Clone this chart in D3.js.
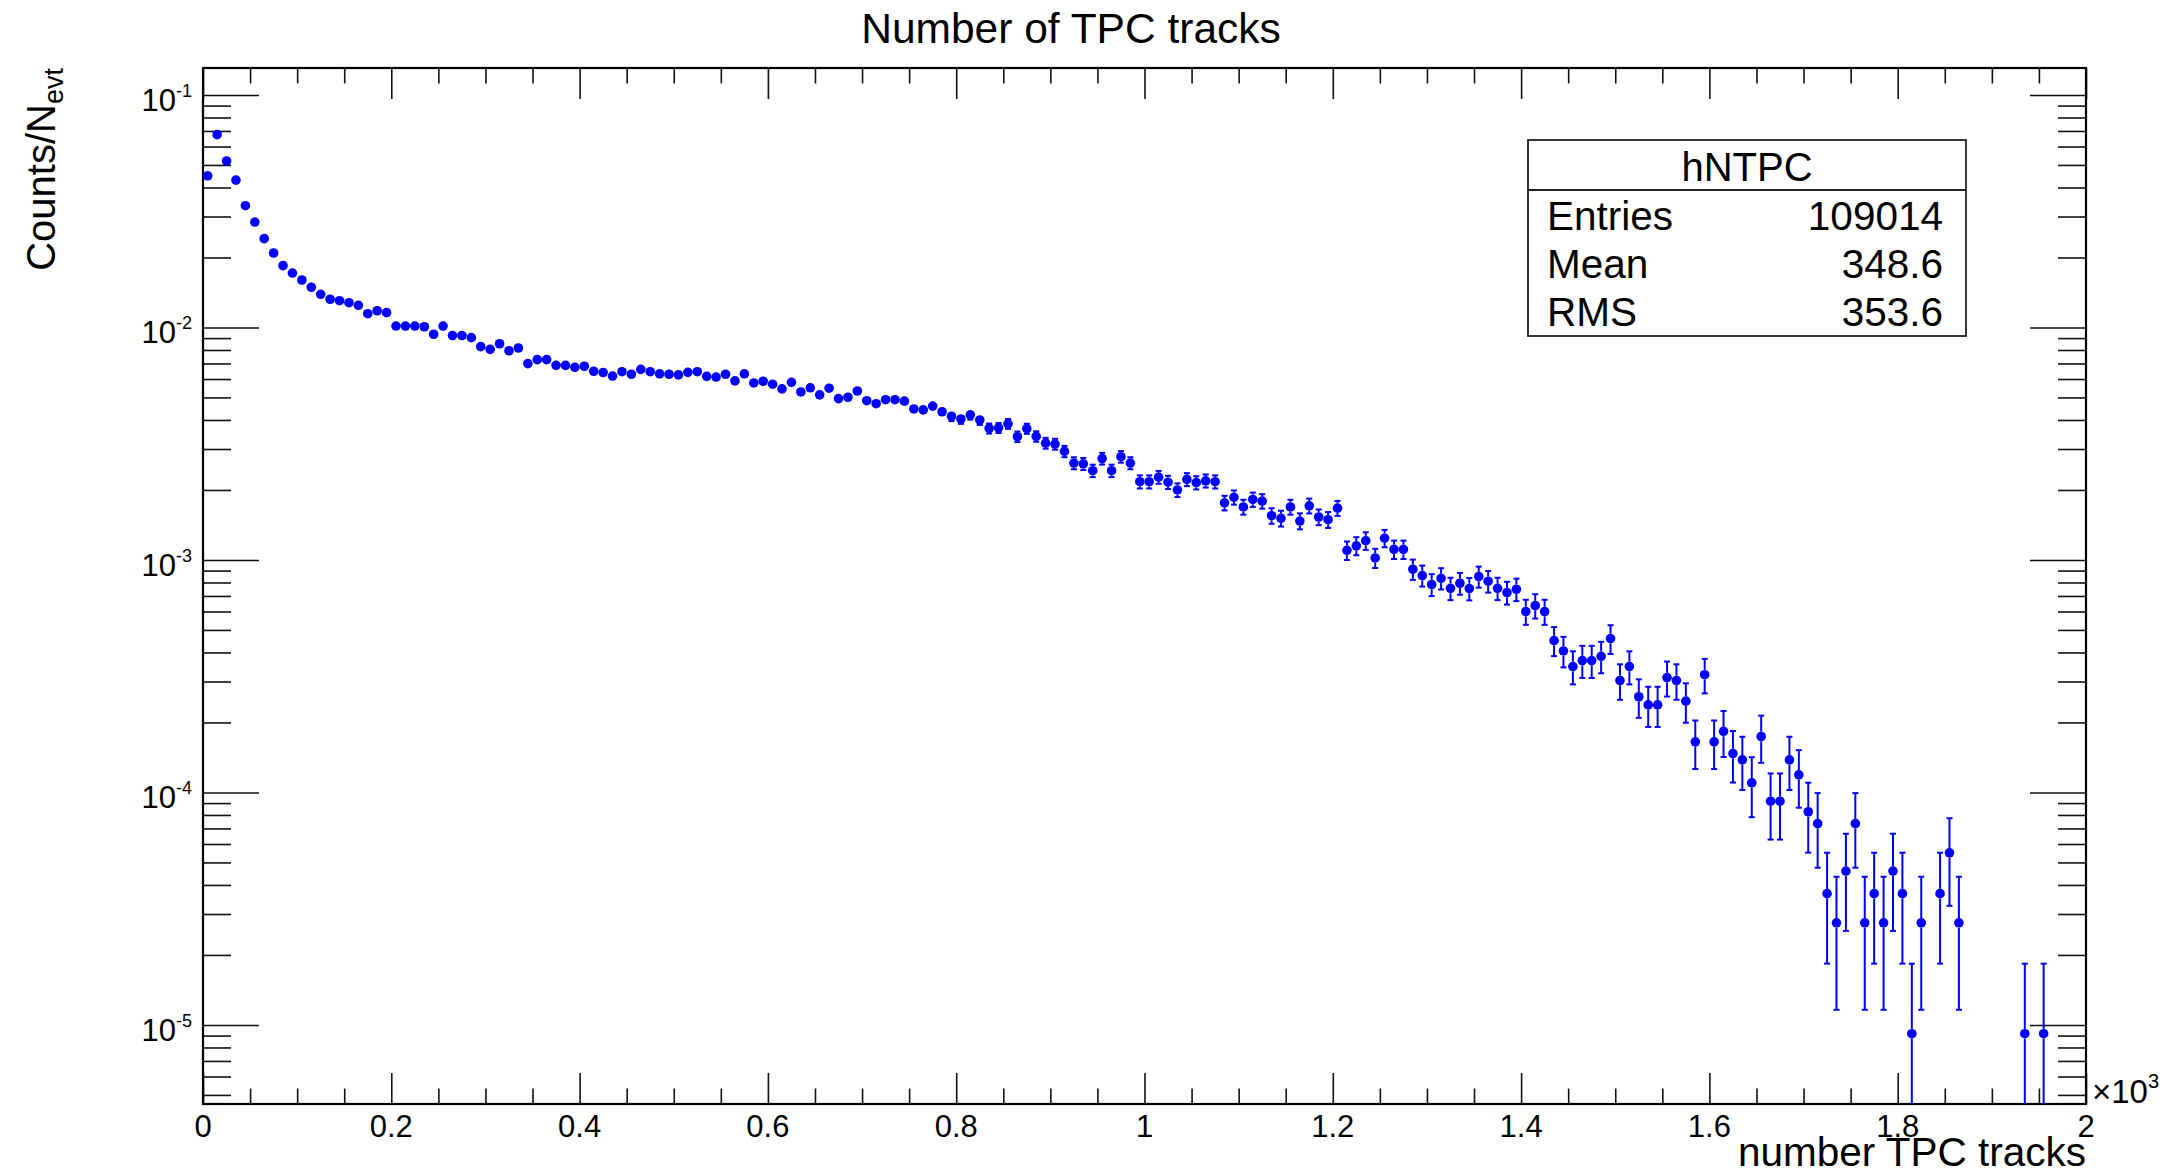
<!DOCTYPE html>
<html>
<head>
    <script src="https://cdn.jsdelivr.net/npm/d3@7/dist/d3.min.js"></script>
    <style>
        html, body {
            padding: 0;
            margin: 0;
            background: white;
        }
        text {
            font-family: "Liberation Sans", Arial, Helvetica, sans-serif;
            fill: #000;
        }
    </style>
</head>
<body>

<script>
    var width = 2177;
    var height = 1176;

    // histogram definition
    var nEvt = 109014;
    var xMin = 0, xMax = 2000, binWidth = 10;
    var yMin = 4.57e-6, yMax = 0.1306;

    // Counts/N_evt for each bin of 10 tracks, null = empty bin
    var counts = [
        0.0449, 0.0675, 0.052, 0.043, 0.0334, 0.0284, 0.0241, 0.0209, 0.01844, 0.01714,
        0.0160, 0.01489, 0.01389, 0.01322, 0.01303, 0.01278, 0.01245, 0.01146, 0.0118, 0.01158,
        0.01014, 0.01014, 0.01014, 0.01007, 0.00935, 0.01014, 0.00923, 0.00923, 0.00904, 0.00827,
        0.00805, 0.00851, 0.00794, 0.00816, 0.00699, 0.00727, 0.00727, 0.00687, 0.00687, 0.00674,
        0.00681, 0.00648, 0.0064, 0.00618, 0.00645, 0.00629, 0.0066, 0.00645, 0.00632, 0.00629,
        0.00625, 0.00641, 0.00645, 0.00616, 0.00612, 0.00629, 0.00589, 0.00632, 0.00577, 0.00587,
        0.0057, 0.00544, 0.00581, 0.00528, 0.0055, 0.00513, 0.00548, 0.00494, 0.00501, 0.00533,
        0.00484, 0.0047, 0.00489, 0.00489, 0.00482, 0.00446, 0.00442, 0.00459, 0.00434, 0.00415,
        0.00404, 0.00421, 0.004, 0.00368, 0.0037, 0.00385, 0.00339, 0.00367, 0.0034, 0.00318,
        0.00315, 0.00293, 0.00261, 0.00259, 0.00242, 0.00273, 0.00242, 0.00278, 0.00261, 0.00217,
        0.00217, 0.00227, 0.00216, 0.002, 0.00222, 0.00215, 0.00219, 0.00217, 0.00176, 0.00186,
        0.00169, 0.00182, 0.00179, 0.00155, 0.00151, 0.00169, 0.00147, 0.00171, 0.00153, 0.00149,
        0.00167, 0.0011, 0.00115, 0.00121, 0.00102, 0.00124, 0.00111, 0.00111, 0.000912, 0.000857,
        0.000784, 0.000834, 0.000755, 0.000794, 0.000753, 0.000848, 0.00081, 0.000755, 0.000724, 0.000748,
        0.0006, 0.000636, 0.0006, 0.00045, 0.000406, 0.000348, 0.000369, 0.000369, 0.000385, 0.000459,
        0.000303, 0.000348, 0.000258, 0.000238, 0.000238, 0.000312, 0.000303, 0.000247, 0.000165, 0.000321,
        0.000165, 0.000183, 0.000147, 0.000138, 0.00011, 0.000174, 9.17e-5, 9.17e-5, 0.000138, 0.000119,
        8.26e-5, 7.34e-5, 3.67e-5, 2.75e-5, 4.59e-5, 7.34e-5, 2.75e-5, 3.67e-5, 2.75e-5, 4.59e-5,
        3.67e-5, 9.17e-6, 2.75e-5, null, 3.67e-5, 5.5e-5, 2.75e-5, null, null, null,
        null, null, null, 9.17e-6, null, 9.17e-6, null, null, null, null
    ];

    var xTicks = [0, 200, 400, 600, 800, 1000, 1200, 1400, 1600, 1800, 2000];
    var xTickLabels = ["0", "0.2", "0.4", "0.6", "0.8", "1", "1.2", "1.4", "1.6", "1.8", "2"];
    var yTicks = [1e-5, 1e-4, 1e-3, 1e-2, 1e-1];
    var yTickExp = ["-5", "-4", "-3", "-2", "-1"];

    var statsName = "hNTPC";
    var statsLabels = ["Entries", "Mean", "RMS"];
    var statsValues = ["109014", "348.6", "353.6"];

    // frame of the pad
    var padL = 203, padR = 2086, padT = 68, padB = 1104;

    var svg = d3.select('body').append('svg')
        .attr('width', width)
        .attr('height', height)
        .style('background-color', 'white');

    var x = d3.scaleLinear().domain([xMin, xMax]).range([padL, padR]);
    var y = d3.scaleLog().domain([yMin, yMax]).range([padB, padT]);

    // minor ticks every 50 tracks, 2..9 on each decade
    var xMinor = d3.range(xMin, xMax + 1, 50).filter(function (v) { return v % 200 != 0; });
    var yMinor = [];
    for (var e = -6; e <= 0; e++) {
        for (var m = 2; m <= 9; m++) {
            var v = m * Math.pow(10, e);
            if (v > yMin && v < yMax) yMinor.push(v);
        }
    }

    function tickAxis(axis, tx, ty) {
        var g = svg.append('g')
            .attr('transform', 'translate(' + tx + ',' + ty + ')')
            .call(axis.tickFormat('').tickSizeOuter(0));
        g.select('.domain').remove();
        g.selectAll('line').attr('stroke', '#111').attr('stroke-width', 1.6);
        return g;
    }

    // ticks on all four sides, pointing inside the frame
    tickAxis(d3.axisBottom(x).tickValues(xTicks).tickSizeInner(-31), 0, padB);
    tickAxis(d3.axisBottom(x).tickValues(xMinor).tickSizeInner(-15.5), 0, padB);
    tickAxis(d3.axisTop(x).tickValues(xTicks).tickSizeInner(-31), 0, padT);
    tickAxis(d3.axisTop(x).tickValues(xMinor).tickSizeInner(-15.5), 0, padT);
    tickAxis(d3.axisLeft(y).tickValues(yTicks).tickSizeInner(-56), padL, 0);
    tickAxis(d3.axisLeft(y).tickValues(yMinor).tickSizeInner(-28), padL, 0);
    tickAxis(d3.axisRight(y).tickValues(yTicks).tickSizeInner(-56), padR, 0);
    tickAxis(d3.axisRight(y).tickValues(yMinor).tickSizeInner(-28), padR, 0);

    // frame
    svg.append('rect')
        .attr('x', padL).attr('y', padT)
        .attr('width', padR - padL).attr('height', padB - padT)
        .attr('fill', 'none')
        .attr('stroke', '#000')
        .attr('stroke-width', 2.2);

    // x tick labels
    svg.selectAll('.xlab').data(xTicks).enter().append('text')
        .attr('class', 'xlab')
        .attr('x', function (d) { return x(d); })
        .attr('y', padB + 33)
        .attr('text-anchor', 'middle')
        .style('font-size', '31px')
        .text(function (d, i) { return xTickLabels[i]; });

    // y tick labels 10^n
    var ylab = svg.selectAll('.ylab').data(yTicks).enter().append('text')
        .attr('class', 'ylab')
        .attr('x', padL - 11)
        .attr('y', function (d) { return y(d) + 16; })
        .attr('text-anchor', 'end');
    ylab.append('tspan').style('font-size', '31px').text('10');
    ylab.append('tspan').style('font-size', '18px').attr('dy', -14)
        .text(function (d, i) { return yTickExp[i]; });

    // x10^3 exponent of the x axis
    var xexp = svg.append('text').attr('x', padR + 6).attr('y', padB - 1);
    xexp.append('tspan').style('font-size', '33px').text('\u00d710');
    xexp.append('tspan').style('font-size', '20px').attr('dy', -15).text('3');

    // titles
    svg.append('text')
        .attr('x', 1071).attr('y', 43)
        .attr('text-anchor', 'middle')
        .style('font-size', '42.5px')
        .text('Number of TPC tracks');

    svg.append('text')
        .attr('x', padR).attr('y', 1166)
        .attr('text-anchor', 'end')
        .style('font-size', '40.5px')
        .text('number TPC tracks');

    var ytitle = svg.append('text')
        .attr('transform', 'translate(55,' + padT + ') rotate(-90)')
        .attr('text-anchor', 'end');
    ytitle.append('tspan').style('font-size', '40px').text('Counts/N');
    ytitle.append('tspan').style('font-size', '27px').attr('dy', 8).text('evt');

    // data points with poisson error bars
    svg.append('clipPath').attr('id', 'frameclip')
        .append('rect')
        .attr('x', padL).attr('y', padT)
        .attr('width', padR - padL).attr('height', padB - padT);

    var points = counts.map(function (v, i) {
        return {x: xMin + (i + 0.5) * binWidth, v: v};
    }).filter(function (d) { return d.v != null; });

    var r = 4.8, cap = 3;
    var plot = svg.append('g').attr('clip-path', 'url(#frameclip)');

    points.forEach(function (d) {
        var err = Math.sqrt(d.v * nEvt) / nEvt;
        var cx = x(d.x), cy = y(d.v);
        var yUp = y(d.v + err);
        var yDown = d.v - err > 0 ? y(d.v - err) : padB + 10;
        var col = '#0000ff';
        if (cy - yUp > r) {
            plot.append('line')
                .attr('x1', cx).attr('x2', cx).attr('y1', cy - r).attr('y2', yUp)
                .attr('stroke', col).attr('stroke-width', 2);
            plot.append('line')
                .attr('x1', cx - cap).attr('x2', cx + cap).attr('y1', yUp).attr('y2', yUp)
                .attr('stroke', col).attr('stroke-width', 2);
        }
        if (yDown - cy > r) {
            plot.append('line')
                .attr('x1', cx).attr('x2', cx).attr('y1', cy + r).attr('y2', yDown)
                .attr('stroke', col).attr('stroke-width', 2);
            plot.append('line')
                .attr('x1', cx - cap).attr('x2', cx + cap).attr('y1', yDown).attr('y2', yDown)
                .attr('stroke', col).attr('stroke-width', 2);
        }
    });

    plot.selectAll('circle').data(points).enter().append('circle')
        .attr('cx', function (d) { return x(d.x); })
        .attr('cy', function (d) { return y(d.v); })
        .attr('r', r)
        .style('fill', '#0000ff');

    // stats box
    var bx = 1528, by = 140, bw = 438, bh = 196;
    svg.append('rect')
        .attr('x', bx).attr('y', by).attr('width', bw).attr('height', bh)
        .attr('fill', 'white').attr('stroke', '#222').attr('stroke-width', 1.8);
    svg.append('line')
        .attr('x1', bx).attr('x2', bx + bw).attr('y1', 190).attr('y2', 190)
        .attr('stroke', '#222').attr('stroke-width', 1.8);
    svg.append('text')
        .attr('x', bx + bw / 2).attr('y', 181)
        .attr('text-anchor', 'middle')
        .style('font-size', '40px')
        .text(statsName);
    statsLabels.forEach(function (lab, i) {
        var ty = 230 + i * 48;
        svg.append('text').attr('x', 1547).attr('y', ty)
            .style('font-size', '40.5px').text(lab);
        svg.append('text').attr('x', 1943).attr('y', ty)
            .attr('text-anchor', 'end')
            .style('font-size', '40.5px').text(statsValues[i]);
    });
</script>
</body>
</html>
